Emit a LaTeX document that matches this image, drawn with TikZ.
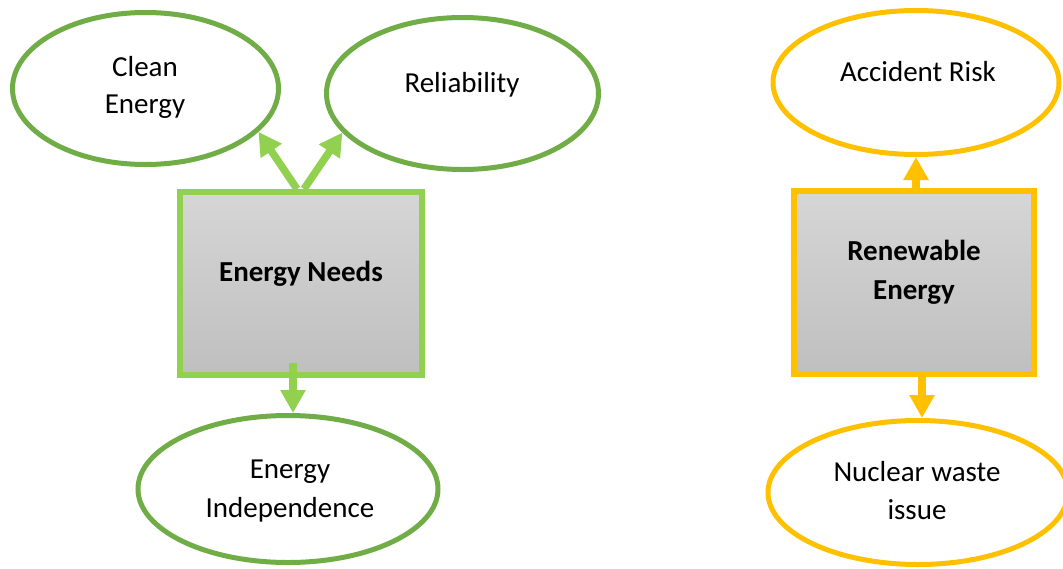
\documentclass[tikz,border=0pt]{standalone}
\usepackage{fontspec}
\setmainfont{Carlito}
\usetikzlibrary{shapes.geometric,arrows.meta,calc}
\definecolor{dgreen}{HTML}{70AD47}
\definecolor{lgreen}{HTML}{92D050}
\definecolor{gold}{HTML}{FFC000}
\definecolor{boxtop}{HTML}{D6D6D6}
\definecolor{boxbot}{HTML}{BFBFBF}
\begin{document}
\begin{tikzpicture}[x=1pt,y=-1pt,
  oval/.style={ellipse, draw, line width=5pt, fill=white, inner sep=0pt},
  boxnode/.style={rectangle, draw, line width=6pt, top color=boxtop, bottom color=boxbot, inner sep=0pt},
  txt/.style={anchor=base, inner sep=0pt, font=\fontsize{29}{35}\selectfont},
  btxt/.style={anchor=base, inner sep=0pt, font=\fontsize{29}{35}\selectfont\bfseries},
  arr/.style={line width=7.5pt, -{Triangle[width=24pt,length=23pt]}},
]
\useasboundingbox (0,0) rectangle (1063,568);
\clip (0,0) rectangle (1063,568);

% left group
\node[oval, draw=dgreen, minimum width=266pt, minimum height=152pt] (clean) at (145.5,88.5) {};
\node[oval, draw=dgreen, minimum width=272pt, minimum height=152pt] (rel) at (462.5,93.5) {};
\node[oval, draw=dgreen, minimum width=300pt, minimum height=147pt] (indep) at (288,489) {};
\node[boxnode, draw=lgreen, minimum width=242pt, minimum height=183pt] (needs) at (301,283.5) {};

\node[txt] (cleant1) at (145,76) {Clean};
\node[txt] (cleant2) at (145,113) {Energy};
\node[txt] (relt) at (462,92) {Reliability};
\node[txt] (indept1) at (290,478) {Energy};
\node[txt] (indept2) at (290,517) {Independence};
\node[btxt] (needst) at (301,281) {Energy Needs};

\coordinate (s1) at ($(needs.north)+(-4,0)$);
\coordinate (s2) at ($(needs.north)+(3,0)$);
\coordinate (s3) at ($(needs.south)+(-8,-15)$);
\draw[arr, draw=lgreen, fill=lgreen] (s1) -- (clean.-21);
\draw[arr, draw=lgreen, fill=lgreen] (s2) -- (rel.198);
\draw[arr, draw=lgreen, fill=lgreen] (s3) -- (s3 |- indep.north);

% right group
\node[oval, draw=gold, minimum width=286pt, minimum height=144pt] (acc) at (916,82.5) {};
\node[oval, draw=gold, minimum width=300pt, minimum height=144pt] (nuc) at (918,492.5) {};
\node[boxnode, draw=gold, minimum width=240pt, minimum height=183pt] (ren) at (914,282.5) {};

\node[txt] (acct) at (918,81) {Accident Risk};
\node[txt] (nuct1) at (917,481) {Nuclear waste};
\node[txt] (nuct2) at (917,519) {issue};
\node[btxt] (rent1) at (914,260) {Renewable};
\node[btxt] (rent2) at (914,299) {Energy};

\coordinate (s4) at (acc.south |- ren.north);
\coordinate (s5) at ($(ren.south)+(8,0)$);
\draw[arr, draw=gold, fill=gold] (s4) -- (acc.south);
\draw[arr, draw=gold, fill=gold] (s5) -- (s5 |- nuc.north);
\end{tikzpicture}
\end{document}
